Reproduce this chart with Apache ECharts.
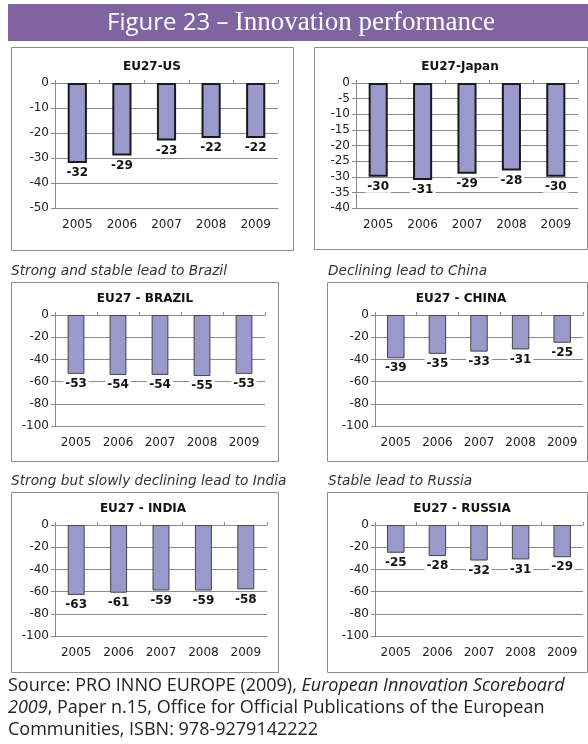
<!DOCTYPE html>
<html>
<head>
<meta charset="utf-8">
<style>
  html, body { margin: 0; padding: 0; background: #fff; }
  #chart { width: 588px; height: 744px; }
</style>
<script src="https://cdn.jsdelivr.net/npm/echarts@6/dist/echarts.min.js"></script>
</head>
<body>
<div id="chart"></div>
<script>
// Category labels shared by every panel
const years = ['2005', '2006', '2007', '2008', '2009'];

// Innovation performance gap of the EU27 against each country
const usGap     = [-32, -29, -23, -22, -22];
const japanGap  = [-30, -31, -29, -28, -30];
const brazilGap = [-53, -54, -54, -55, -53];
const chinaGap  = [-39, -35, -33, -31, -25];
const indiaGap  = [-63, -61, -59, -59, -58];
const russiaGap = [-25, -28, -32, -31, -29];

// Panel titles and captions
const panelTitles = ['EU27-US', 'EU27-Japan', 'EU27 - BRAZIL', 'EU27 - CHINA', 'EU27 - INDIA', 'EU27 - RUSSIA'];
const captions = ['', '', 'Strong and stable lead to Brazil', 'Declining lead to China',
                  'Strong but slowly declining lead to India', 'Stable lead to Russia'];

// Value-axis ranges
const axisMins = [-50, -40, -100, -100, -100, -100];
const axisSteps = [10, 5, 20, 20, 20, 20];

const seriesData = [usGap, japanGap, brazilGap, chinaGap, indiaGap, russiaGap];

// Layout of each panel: outer box, plot area, title/caption anchors
const layout = [
  { box: [11, 47, 282, 203], grid: [55, 83, 223, 125], titleX: 152, titleY: 67, barWidth: '43%', thick: true },
  { box: [314, 47, 273, 202], grid: [356, 83, 222, 125], titleX: 460, titleY: 67, barWidth: '43%', thick: true },
  { box: [11, 282, 267, 179], grid: [55, 315, 210, 111], titleX: 145, titleY: 299, capX: 11, capY: 271, barWidth: '40%' },
  { box: [327, 282, 260, 179], grid: [375, 315, 208, 111], titleX: 461, titleY: 299, capX: 328, capY: 271, barWidth: '42%' },
  { box: [11, 492, 267, 180], grid: [55, 525, 212, 111], titleX: 143, titleY: 509, capX: 11, capY: 481, barWidth: '40%' },
  { box: [327, 492, 260, 180], grid: [375, 525, 208, 111], titleX: 462, titleY: 509, capX: 328, capY: 481, barWidth: '42%' }
];

const FONT = 'DejaVu Sans';
const GRID_COLOR = '#8a8a8a';
const BAR_FILL = '#9999cc';

const grids = [], xAxes = [], yAxes = [], series = [], graphics = [];

// Heading bar
graphics.push({ type: 'rect', shape: { x: 8, y: 4, width: 580, height: 37 }, style: { fill: '#8064a2' }, z: 1 });
graphics.push({
  type: 'text', x: 301, y: 23, z: 2,
  style: {
    text: '{s|Figure 23 \u2013 }{r|Innovation performance}',
    textAlign: 'center', textVerticalAlign: 'middle', fill: '#fff',
    rich: {
      s: { fontFamily: 'Open Sans', fontSize: 24, fill: '#fff' },
      r: { fontFamily: 'Liberation Serif', fontSize: 27, fill: '#fff' }
    }
  }
});

layout.forEach((p, i) => {
  // Panel frame
  graphics.push({ type: 'rect', shape: { x: p.box[0] + 0.5, y: p.box[1] + 0.5, width: p.box[2], height: p.box[3] },
    style: { fill: '#fff', stroke: '#8c8c8c', lineWidth: 1 }, z: 0 });
  // Chart title inside the frame
  graphics.push({ type: 'text', x: p.titleX, y: p.titleY, z: 2,
    style: { text: panelTitles[i], font: 'bold 12px "' + FONT + '"', fill: '#111',
      textAlign: 'center', textVerticalAlign: 'middle' } });
  // Italic caption above the frame
  if (captions[i]) {
    graphics.push({ type: 'text', x: p.capX, y: p.capY, z: 2,
      style: { text: captions[i], font: 'italic 13.7px "' + FONT + '"', fill: '#333',
        textAlign: 'left', textVerticalAlign: 'middle' } });
  }

  grids.push({ left: p.grid[0], top: p.grid[1], width: p.grid[2], height: p.grid[3] });

  // Bottom category axis carrying the year labels
  xAxes.push({
    gridIndex: i, type: 'category', data: years, position: 'bottom',
    axisLine: { onZero: false, lineStyle: { color: GRID_COLOR } },
    axisTick: { show: false },
    axisLabel: { margin: 11, fontFamily: FONT, fontSize: 12, color: '#222' }
  });
  // Zero line axis with small tick marks between categories
  xAxes.push({
    gridIndex: i, type: 'category', data: years, position: 'top',
    axisLine: { show: true, lineStyle: { color: GRID_COLOR } },
    axisTick: { show: true, inside: false, length: 3, lineStyle: { color: GRID_COLOR } },
    axisLabel: { show: false }
  });

  yAxes.push({
    gridIndex: i, type: 'value', min: axisMins[i], max: 0, interval: axisSteps[i],
    axisLine: { show: true, lineStyle: { color: GRID_COLOR } },
    axisTick: { show: true, length: 4, lineStyle: { color: GRID_COLOR } },
    axisLabel: { margin: 6, fontFamily: FONT, fontSize: 12, color: '#222' },
    splitLine: { show: true, lineStyle: { color: GRID_COLOR, width: 1 } }
  });

  series.push({
    type: 'bar', xAxisIndex: i * 2, yAxisIndex: i, data: seriesData[i],
    barWidth: p.barWidth,
    itemStyle: { color: BAR_FILL, borderColor: p.thick ? '#1a1a1a' : '#444', borderWidth: p.thick ? 2 : 1 },
    label: {
      show: true, position: 'bottom', distance: 4,
      fontFamily: FONT, fontWeight: 'bold', fontSize: 12, color: '#111',
      backgroundColor: '#fff', padding: [0, 2]
    },
    z: 3
  });
});

// Source note
const srcRich = {
  n: { fontFamily: 'Open Sans', fontSize: 18, fill: '#222' },
  i: { fontFamily: 'Open Sans', fontSize: 18, fontStyle: 'italic', fill: '#222' }
};
const sourceLines = [
  '{n|Source: PRO INNO EUROPE (2009), }{i|European Innovation Scoreboard}',
  '{i|2009}{n|, Paper n.15, Office for Official Publications of the European}',
  '{n|Communities, ISBN: 978-9279142222}'
];
sourceLines.forEach((t, k) => {
  graphics.push({ type: 'text', x: 8, y: 686 + k * 22, z: 2,
    style: { text: t, textAlign: 'left', textVerticalAlign: 'middle', rich: srcRich } });
});

const chart = echarts.init(document.getElementById('chart'), null, { renderer: 'canvas' });
chart.setOption({
  backgroundColor: '#fff',
  animation: false,
  grid: grids,
  xAxis: xAxes,
  yAxis: yAxes,
  series: series,
  graphic: { elements: graphics }
});
</script>
</body>
</html>
